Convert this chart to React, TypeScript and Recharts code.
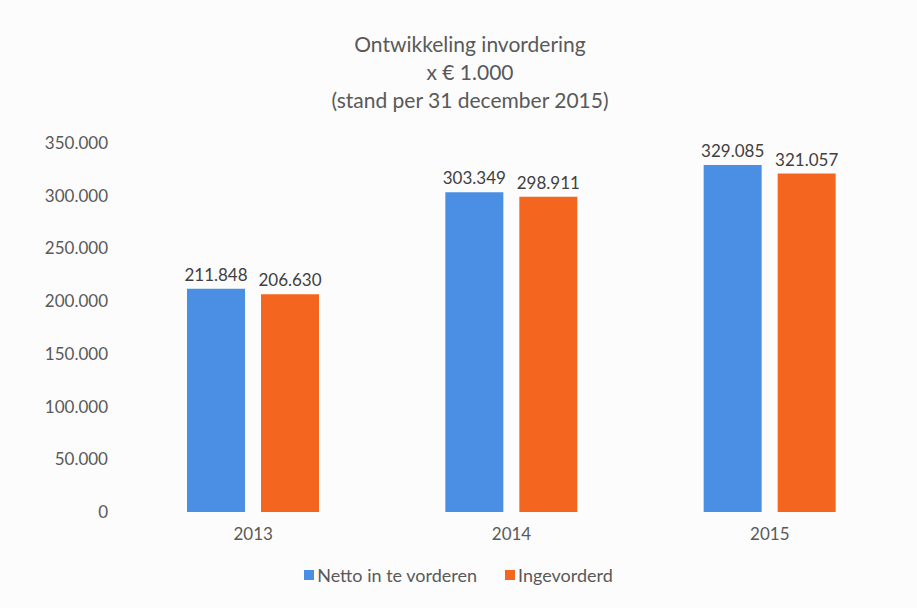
import { BarChart, Bar, XAxis, YAxis, Legend, LabelList } from 'recharts';

const years = ['2013', '2014', '2015'];
const netto = [211848, 303349, 329085];
const ingevorderd = [206630, 298911, 321057];
const yTicks = [0, 50000, 100000, 150000, 200000, 250000, 300000, 350000];
const seriesNames = ['Netto in te vorderen', 'Ingevorderd'];
const seriesColors = ['#4a8fe3', '#f4661f'];

const data = years.map((y, i) => ({ year: y, netto: netto[i], ingevorderd: ingevorderd[i] }));

const fmt = (v: number) => (v === 0 ? '0' : Math.round(v).toString().replace(/\B(?=(\d{3})+(?!\d))/g, '.'));

const FONT = 'Lato, "Open Sans", sans-serif';
const GREY = '#595959';

function LegendContent() {
  return (
    <div style={{ display: 'flex', justifyContent: 'center', gap: 28, fontSize: 18, color: GREY, fontFamily: FONT }}>
      {seriesNames.map((n, i) => (
        <div key={n} style={{ display: 'flex', alignItems: 'center', gap: 3 }}>
          <div style={{ width: 10, height: 10, background: seriesColors[i] }} />
          <span>{n}</span>
        </div>
      ))}
    </div>
  );
}

export default function App() {
  return (
    <div style={{ position: 'fixed', left: 0, top: 0, width: 917, height: 608, background: '#fcfcfc', fontFamily: FONT }}>
      <div
        style={{
          position: 'absolute',
          left: 220,
          width: 500,
          top: 30,
          textAlign: 'center',
          color: GREY,
          fontSize: 21,
          lineHeight: '28px',
        }}
      >
        <div>Ontwikkeling invordering</div>
        <div>x € 1.000</div>
        <div>(stand per 31 december 2015)</div>
      </div>
      <BarChart
        width={917}
        height={608}
        data={data}
        margin={{ top: 143, right: 18, bottom: 42, left: 0 }}
        barCategoryGap={63}
        barGap={16}
      >
        <XAxis
          dataKey="year"
          height={30}
          axisLine={false}
          tickLine={false}
          tick={{ fill: GREY, fontSize: 17, fontFamily: FONT }}
          tickMargin={10}
        />
        <YAxis
          width={124}
          domain={[0, 350000]}
          ticks={yTicks}
          axisLine={false}
          tickLine={false}
          tickMargin={10}
          tickFormatter={fmt}
          tick={{ fill: GREY, fontSize: 17, fontFamily: FONT }}
        />
        <Legend
          content={<LegendContent />}
          height={24}
          wrapperStyle={{ top: 564, left: 0, width: 917 }}
        />
        <Bar dataKey="netto" name={seriesNames[0]} fill={seriesColors[0]} isAnimationActive={false}>
          <LabelList dataKey="netto" position="top" formatter={(v: any) => fmt(Number(v))} fill="#404040" fontSize={17} fontFamily={FONT} offset={8} />
        </Bar>
        <Bar dataKey="ingevorderd" name={seriesNames[1]} fill={seriesColors[1]} isAnimationActive={false}>
          <LabelList dataKey="ingevorderd" position="top" formatter={(v: any) => fmt(Number(v))} fill="#404040" fontSize={17} fontFamily={FONT} offset={8} />
        </Bar>
      </BarChart>
    </div>
  );
}
